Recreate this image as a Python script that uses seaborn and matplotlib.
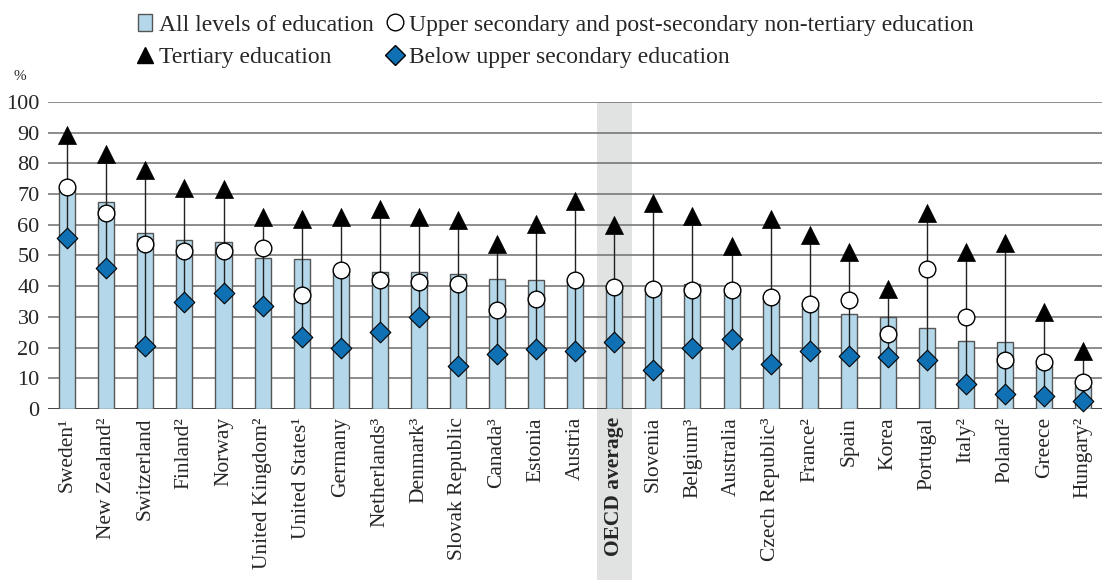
"""Employment rates by educational attainment, OECD countries."""

import matplotlib
matplotlib.use("Agg")
import matplotlib.pyplot as plt
import matplotlib.transforms as mtrans
from matplotlib.patches import Rectangle
from matplotlib.lines import Line2D
import numpy as np
import seaborn as sns

countries = ["Sweden¹", "New Zealand²", "Switzerland", "Finland²", "Norway",
             "United Kingdom²", "United States¹", "Germany", "Netherlands³",
             "Denmark³", "Slovak Republic", "Canada³", "Estonia", "Austria",
             "OECD average", "Slovenia", "Belgium³", "Australia",
             "Czech Republic³", "France²", "Spain", "Korea", "Portugal",
             "Italy²", "Poland²", "Greece", "Hungary²"]
all_levels = [72, 67.5, 57.2, 55, 54.5, 49.2, 49, 45, 44.5, 44.5, 44, 42.3,
              42, 42, 40, 39, 40.7, 38.5, 36.5, 34, 30.9, 29.8, 26.3, 22.2,
              21.8, 14.5, 7.4]
upper_sec = [72.4, 64, 53.7, 51.6, 51.6, 52.5, 37, 45.3, 42, 41.3, 40.7, 32.3,
             35.9, 42, 39.6, 39, 38.6, 38.6, 36.6, 34.1, 35.4, 24.4, 45.5,
             30.1, 15.8, 15.2, 8.7]
tertiary = [89.2, 83, 78, 72, 71.8, 62.4, 62, 62.4, 65, 62.4, 61.5, 53.7,
            60.2, 67.7, 59.9, 67.2, 62.8, 53, 62, 56.7, 51, 39, 63.7, 51.2,
            54, 31.5, 19]
below = [55.8, 46, 20.4, 35, 37.7, 33.4, 23.3, 19.8, 25.2, 29.8, 14, 18,
         19.6, 19, 21.8, 12.6, 19.8, 22.7, 14.7, 19, 17.1, 16.8, 15.8, 8.1,
         4.7, 4.1, 2.5]
highlight = "OECD average"

BAR = "#b4d8ea"
DIAMOND = "#0f71b3"
SERIF = ["Liberation Serif", "DejaVu Serif"]

sns.set_theme(style="white")
plt.rcParams["font.family"] = SERIF

fig = plt.figure(figsize=(11.02, 5.8), dpi=100)
ax = fig.add_axes([0.0436, 0.295, 0.9564, 0.529])

x = np.arange(len(countries))

# shaded OECD average column, running down through the tick label
hi = countries.index(highlight)
trans = mtrans.blended_transform_factory(ax.transData, ax.transAxes)
ax.add_patch(Rectangle((hi - 0.45, -0.6), 0.9, 1.6, transform=trans,
                       facecolor="#e1e2e2", edgecolor="none",
                       clip_on=False, zorder=0))

for v in range(10, 101, 10):
    ax.axhline(v, color="#6e6e6e", lw=1.1, zorder=1)
ax.axhline(0, color="#222222", lw=1.2, zorder=1)

sns.barplot(x=countries, y=all_levels, color=BAR, saturation=1,
            width=0.41, edgecolor="#555555", linewidth=1.0, ax=ax, zorder=2)

lo = np.minimum(tertiary, below)
up = np.maximum(tertiary, below)
ax.vlines(x, lo, up, color="#222222", lw=1.0, zorder=3)

kw = dict(ax=ax, legend=False, zorder=4, clip_on=False)
sns.scatterplot(x=x, y=tertiary, marker="^", s=13**2, color="black",
                edgecolor="black", linewidth=0.5, **kw)
sns.scatterplot(x=x, y=upper_sec, marker="o", s=12**2, color="white",
                edgecolor="black", linewidth=1.0, **kw)
sns.scatterplot(x=x, y=below, marker="D", s=10.5**2, color=DIAMOND,
                edgecolor="black", linewidth=0.8, **kw)

ax.set_xlim(-0.49, 26.48)
ax.set_ylim(0, 100)
ax.set_yticks(range(0, 101, 10))
ax.tick_params(axis="y", length=0, labelsize=16, pad=6)
ax.tick_params(axis="x", length=0, labelsize=15.5, pad=6)
ax.set_xticks(x)
ax.set_xticklabels(countries, rotation=90)
for t in ax.get_xticklabels():
    if t.get_text() == highlight:
        t.set_fontweight("bold")
sns.despine(ax=ax, left=True, bottom=True, top=True, right=True)
ax.set_xlabel("")
ax.set_ylabel("")

fig.text(0.012, 0.862, "%", fontsize=11)

handles = [
    Rectangle((0, 0), 1, 1, facecolor=BAR, edgecolor="#555555", lw=1.0),
    Line2D([], [], ls="none", marker="^", ms=12, color="black"),
    Line2D([], [], ls="none", marker="o", ms=12, mfc="white", mec="black"),
    Line2D([], [], ls="none", marker="D", ms=10, mfc=DIAMOND, mec="black"),
]
labels = ["All levels of education", "Tertiary education",
          "Upper secondary and post-secondary non-tertiary education",
          "Below upper secondary education"]
fig.legend(handles, labels, ncol=2, loc="upper left",
           bbox_to_anchor=(0.112, 1.0), frameon=False, fontsize=17,
           handlelength=0.6, handletextpad=0.3, columnspacing=0.6,
           labelspacing=0.45, borderaxespad=0.2)

fig.savefig("out.png", dpi=100)
